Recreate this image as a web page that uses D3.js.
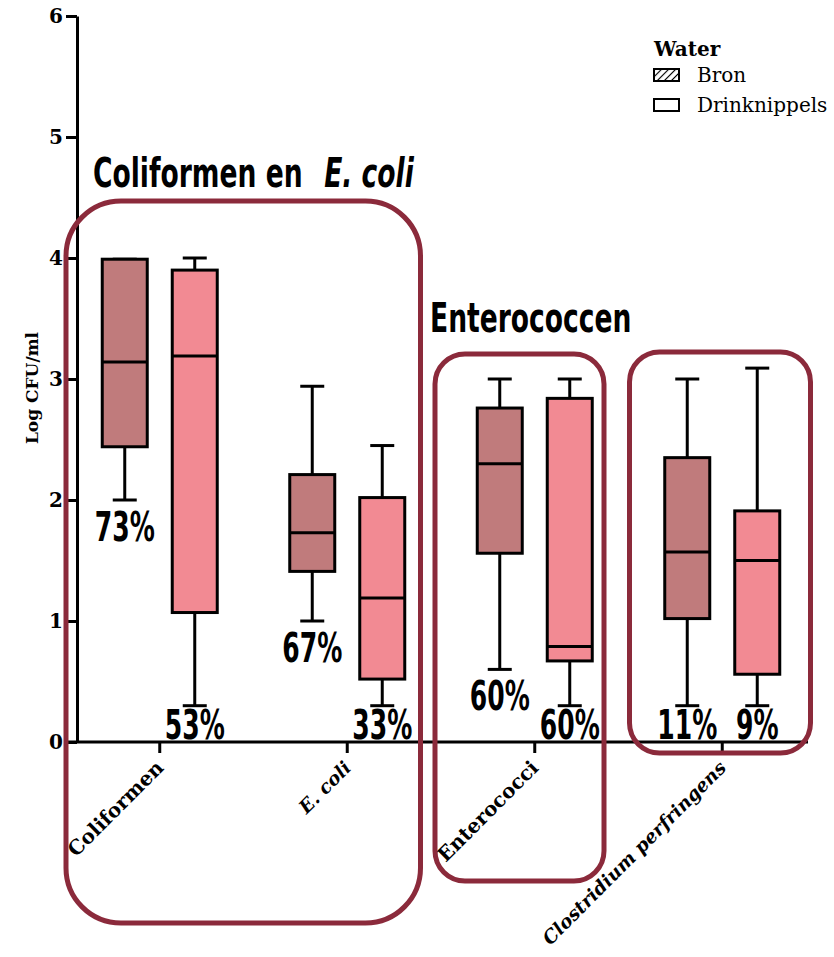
<!DOCTYPE html>
<html>
<head>
<meta charset="utf-8">
<script src="https://cdn.jsdelivr.net/npm/d3@7/dist/d3.min.js"></script>
<style>
  body { margin: 0; background: #fff; }
  .axis text { font-family: "DejaVu Serif", serif; font-weight: bold; font-size: 20px; fill: #000; }
  .axis path, .axis line { stroke: #000; stroke-width: 3; }
  .cat-label { font-family: "DejaVu Serif", serif; font-weight: bold; font-size: 20px; }
  .cat-label.it { font-style: italic; font-size: 18.5px; }
  .y-title { font-family: "DejaVu Serif", serif; font-weight: bold; font-size: 17px; }
  .legend text { font-family: "DejaVu Serif", serif; font-size: 20px; }
  .pct, .group-title { font-family: "DejaVu Sans Condensed", "DejaVu Sans", sans-serif; font-weight: bold; font-size: 41px; }
</style>
</head>
<body>
<svg id="chart"></svg>
<script>
// categories and series
const categories = ["Coliformen", "E. coli", "Enterococci", "Clostridium perfringens"];
const italicCats = ["E. coli", "Clostridium perfringens"];
const groups = ["Bron", "Drinknippels"];

// box statistics, Log CFU/ml
const bronMin    = [2.00, 1.00, 0.60, 0.30];
const bronQ1     = [2.44, 1.41, 1.56, 1.02];
const bronMedian = [3.14, 1.73, 2.30, 1.57];
const bronQ3     = [3.99, 2.21, 2.76, 2.35];
const bronMax    = [3.99, 2.94, 3.00, 3.00];

const drinkMin    = [0.30, 0.30, 0.30, 0.30];
const drinkQ1     = [1.07, 0.52, 0.67, 0.56];
const drinkMedian = [3.19, 1.19, 0.79, 1.50];
const drinkQ3     = [3.90, 2.02, 2.84, 1.91];
const drinkMax    = [4.00, 2.45, 3.00, 3.09];

// percentage labels
const bronPct  = [73, 67, 60, 11];
const drinkPct = [53, 33, 60, 9];

const yTicks = [0, 1, 2, 3, 4, 5, 6];

// build rows for drawing
const rows = [];
categories.forEach((c, i) => {
    rows.push({cat: c, group: "Bron", min: bronMin[i], q1: bronQ1[i], med: bronMedian[i], q3: bronQ3[i], max: bronMax[i], pct: bronPct[i]});
    rows.push({cat: c, group: "Drinknippels", min: drinkMin[i], q1: drinkQ1[i], med: drinkMedian[i], q3: drinkQ3[i], max: drinkMax[i], pct: drinkPct[i]});
});

const width = 834, height = 957;
const colors = {"Bron": "#c07b7c", "Drinknippels": "#f28a93"};
const frameColor = "#8b2a3b";

// set the ranges
const x = d3.scaleBand().domain(categories).range([66, 816]);
const xSub = d3.scaleBand().domain(groups).range([-70, 70]);
const y = d3.scaleLinear().domain([0, 6]).range([742, 16]);
const boxW = 45;

const svg = d3.select("#chart")
    .attr("width", width)
    .attr("height", height);

const defs = svg.append("defs");
const hatch = defs.append("pattern")
    .attr("id", "hatch")
    .attr("patternUnits", "userSpaceOnUse")
    .attr("width", 5).attr("height", 5)
    .attr("patternTransform", "rotate(45)");
hatch.append("rect").attr("width", 5).attr("height", 5).attr("fill", "#fff");
hatch.append("line").attr("x1", 0).attr("y1", 0).attr("x2", 0).attr("y2", 5)
    .attr("stroke", "#000").attr("stroke-width", 2.2);

// y axis
svg.append("g")
    .attr("class", "axis")
    .attr("transform", "translate(77,0)")
    .call(d3.axisLeft(y).tickValues(yTicks).tickFormat(d3.format("d"))
        .tickSize(11).tickSizeOuter(0).tickPadding(3));

// x axis
const xAxis = svg.append("g")
    .attr("class", "axis")
    .attr("transform", "translate(0," + y(0) + ")")
    .call(d3.axisBottom(x).tickSize(11).tickSizeOuter(0).tickFormat(""));
xAxis.select(".domain").attr("d", "M68,0H808");

svg.selectAll(".cat-label")
    .data(categories)
    .enter()
    .append("text")
        .attr("class", d => italicCats.includes(d) ? "cat-label it" : "cat-label")
        .attr("text-anchor", "end")
        .attr("transform", d => "translate(" + (x(d) + x.bandwidth() / 2 + 5) + "," + (y(0) + 27) + ") rotate(-45)")
        .text(d => d);

// y axis title
svg.append("text")
    .attr("class", "y-title")
    .attr("text-anchor", "middle")
    .attr("transform", "translate(38,388) rotate(-90)")
    .text("Log CFU/ml");

// box plots
const cx = d => x(d.cat) + x.bandwidth() / 2 + xSub(d.group) + xSub.bandwidth() / 2;
const box = svg.selectAll(".box")
    .data(rows)
    .enter()
    .append("g")
        .attr("class", "box");

box.append("line")
    .attr("x1", cx).attr("x2", cx)
    .attr("y1", d => y(d.max)).attr("y2", d => y(d.min))
    .attr("stroke", "#000").attr("stroke-width", 3);

box.append("line")
    .attr("x1", d => cx(d) - 12).attr("x2", d => cx(d) + 12)
    .attr("y1", d => y(d.max)).attr("y2", d => y(d.max))
    .attr("stroke", "#000").attr("stroke-width", 3);

box.append("line")
    .attr("x1", d => cx(d) - 12).attr("x2", d => cx(d) + 12)
    .attr("y1", d => y(d.min)).attr("y2", d => y(d.min))
    .attr("stroke", "#000").attr("stroke-width", 3);

box.append("rect")
    .attr("x", d => cx(d) - boxW / 2)
    .attr("width", boxW)
    .attr("y", d => y(d.q3))
    .attr("height", d => y(d.q1) - y(d.q3))
    .attr("fill", d => colors[d.group])
    .attr("stroke", "#000").attr("stroke-width", 3);

box.append("line")
    .attr("x1", d => cx(d) - boxW / 2).attr("x2", d => cx(d) + boxW / 2)
    .attr("y1", d => y(d.med)).attr("y2", d => y(d.med))
    .attr("stroke", "#000").attr("stroke-width", 3);

// percentage labels
box.append("text")
    .attr("class", "pct")
    .attr("text-anchor", "middle")
    .attr("transform", d => "translate(" + cx(d) + "," + Math.min(y(d.min) + 41, y(0) - 3) + ") scale(0.68,1)")
    .text(d => d.pct + "%");

// group frames
const frames = [
    {from: "Coliformen", to: "E. coli", left: 0, right: 167, top: 201, bottom: 923, r: 55},
    {from: "Enterococci", to: "Enterococci", left: -6, right: 163, top: 354, bottom: 881, r: 30},
    {from: "Clostridium perfringens", to: "Clostridium perfringens", left: 1, right: 182, top: 352, bottom: 753, r: 30}
];
svg.selectAll(".frame")
    .data(frames)
    .enter()
    .append("rect")
        .attr("class", "frame")
        .attr("x", d => x(d.from) + d.left)
        .attr("y", d => d.top)
        .attr("width", d => x(d.to) + d.right - x(d.from) - d.left)
        .attr("height", d => d.bottom - d.top)
        .attr("rx", d => d.r)
        .attr("fill", "none")
        .attr("stroke", frameColor)
        .attr("stroke-width", 5);

// group titles
const t1 = svg.append("text")
    .attr("class", "group-title")
    .attr("transform", "translate(93,187) scale(0.72,1)");
t1.append("tspan").text("Coliformen en");
t1.append("tspan").attr("dx", 30).attr("font-style", "italic").text("E. coli");

svg.append("text")
    .attr("class", "group-title")
    .attr("transform", "translate(430,332) scale(0.72,1)")
    .text("Enterococcen");

// legend
const legend = svg.append("g").attr("class", "legend");
legend.append("text")
    .attr("x", 654).attr("y", 56)
    .attr("font-weight", "bold")
    .text("Water");
const legendRows = legend.selectAll(".lg")
    .data(groups)
    .enter()
    .append("g")
        .attr("transform", (d, i) => "translate(654," + (69 + i * 30) + ")");
legendRows.append("rect")
    .attr("width", 25).attr("height", 12)
    .attr("fill", d => d === "Bron" ? "url(#hatch)" : "#fff")
    .attr("stroke", "#000").attr("stroke-width", 2);
legendRows.append("text")
    .attr("x", 43).attr("y", 13)
    .text(d => d);
</script>
</body>
</html>
